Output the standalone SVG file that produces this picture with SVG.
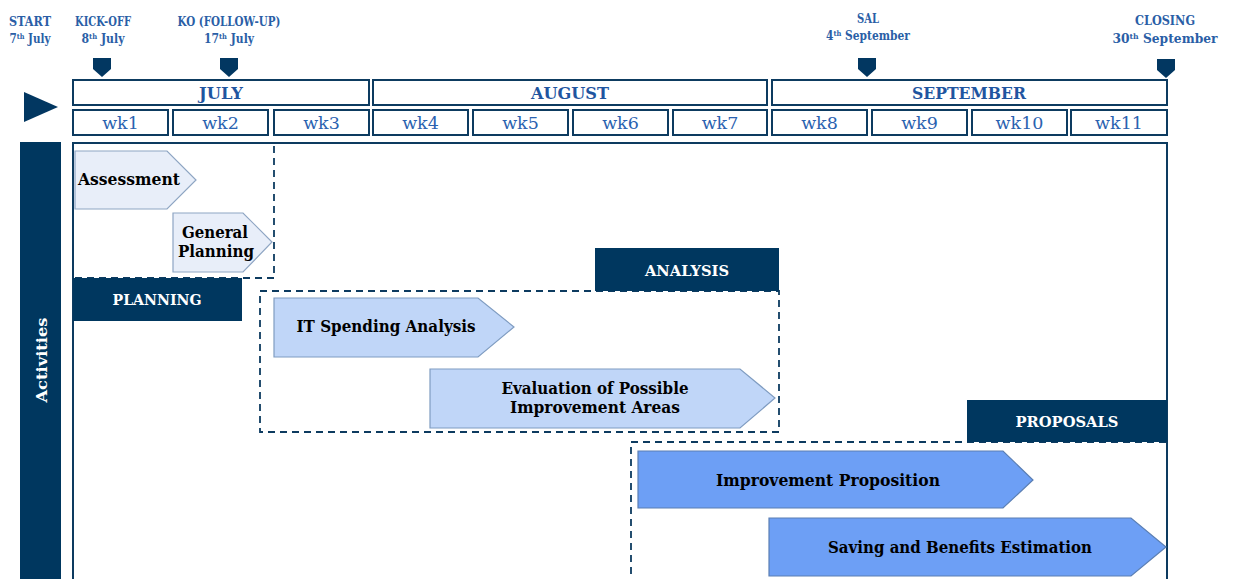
<svg xmlns="http://www.w3.org/2000/svg" width="1233" height="579" viewBox="0 0 1233 579">
  <style>
    .cell { fill: #ffffff; stroke: #0d3b60; stroke-width: 2; }
    .mark { fill: #023761; }
    .hdr { font-family: "DejaVu Serif", "Liberation Serif", serif; font-weight: bold; font-size: 12px; fill: #2a5ea6; text-anchor: middle; }
    .sup { font-size: 7.5px; }
    .month { font-family: "DejaVu Serif", "Liberation Serif", serif; font-weight: bold; font-size: 17px; fill: #1f55a0; text-anchor: middle; }
    .week { font-family: "DejaVu Serif", "Liberation Serif", serif; font-size: 17.5px; fill: #2a62b0; text-anchor: middle; }
    .banner { fill: #00375f; }
    .btxt { font-family: "DejaVu Serif", "Liberation Serif", serif; font-weight: bold; font-size: 15px; fill: #ffffff; text-anchor: middle; }
    .phase { fill: none; stroke: #0d3b60; stroke-width: 1.8; stroke-dasharray: 7 5; }
    .task { font-family: "DejaVu Serif", "Liberation Serif", serif; font-weight: bold; font-size: 16.5px; fill: #000000; text-anchor: middle; }
    .a1 { fill: #e8eef9; stroke: #8ea5c3; stroke-width: 1.2; }
    .a2 { fill: #c0d6f8; stroke: #7f9cc1; stroke-width: 1.2; }
    .a3 { fill: #6d9ff5; stroke: #5b7fb3; stroke-width: 1.2; }
  </style>

  <!-- timeline start arrow -->
  <polygon class="mark" points="24,92 24,122 58,107"/>

  <!-- milestone labels and markers -->
  <g id="milestones">
    <text class="hdr" x="30" y="26" textLength="42" lengthAdjust="spacingAndGlyphs">START</text>
    <text class="hdr" x="30" y="43" textLength="41" lengthAdjust="spacingAndGlyphs">7<tspan class="sup" dy="-4">th</tspan><tspan dy="4"> July</tspan></text>

    <text class="hdr" x="103" y="26" textLength="56" lengthAdjust="spacingAndGlyphs">KICK-OFF</text>
    <text class="hdr" x="103" y="43" textLength="43" lengthAdjust="spacingAndGlyphs">8<tspan class="sup" dy="-4">th</tspan><tspan dy="4"> July</tspan></text>
    <polygon class="mark" points="93,58 111,58 111,69 102,77 93,69"/>

    <text class="hdr" x="229" y="26" textLength="103" lengthAdjust="spacingAndGlyphs">KO (FOLLOW-UP)</text>
    <text class="hdr" x="229" y="43" textLength="50" lengthAdjust="spacingAndGlyphs">17<tspan class="sup" dy="-4">th</tspan><tspan dy="4"> July</tspan></text>
    <polygon class="mark" points="220,58 238,58 238,69 229,77 220,69"/>

    <text class="hdr" x="868" y="23" textLength="22" lengthAdjust="spacingAndGlyphs">SAL</text>
    <text class="hdr" x="868" y="40" textLength="84" lengthAdjust="spacingAndGlyphs">4<tspan class="sup" dy="-4">th</tspan><tspan dy="4"> September</tspan></text>
    <polygon class="mark" points="858,58 876,58 876,69 867,77 858,69"/>

    <text class="hdr" x="1165" y="25" font-size="12.5" textLength="60" lengthAdjust="spacingAndGlyphs">CLOSING</text>
    <text class="hdr" x="1165" y="43" font-size="12.5" textLength="105" lengthAdjust="spacingAndGlyphs">30<tspan class="sup" dy="-4">th</tspan><tspan dy="4"> September</tspan></text>
    <polygon class="mark" points="1157,59 1175,59 1175,70 1166,78 1157,70"/>
  </g>

  <!-- month row -->
  <g id="months">
    <rect class="cell" x="73" y="80" width="296" height="25"/>
    <text class="month" x="221" y="99" textLength="44" lengthAdjust="spacingAndGlyphs">JULY</text>
    <rect class="cell" x="373" y="80" width="394" height="25"/>
    <text class="month" x="570" y="99" textLength="78" lengthAdjust="spacingAndGlyphs">AUGUST</text>
    <rect class="cell" x="772" y="80" width="395" height="25"/>
    <text class="month" x="969" y="99" textLength="114" lengthAdjust="spacingAndGlyphs">SEPTEMBER</text>
  </g>

  <!-- week row -->
  <g id="weeks">
    <rect class="cell" x="73" y="110" width="95" height="25"/><text class="week" x="120.5" y="129">wk1</text>
    <rect class="cell" x="173" y="110" width="95" height="25"/><text class="week" x="220.5" y="129">wk2</text>
    <rect class="cell" x="274" y="110" width="95" height="25"/><text class="week" x="321.5" y="129">wk3</text>
    <rect class="cell" x="373" y="110" width="95" height="25"/><text class="week" x="420.5" y="129">wk4</text>
    <rect class="cell" x="473" y="110" width="95" height="25"/><text class="week" x="520.5" y="129">wk5</text>
    <rect class="cell" x="573" y="110" width="95" height="25"/><text class="week" x="620.5" y="129">wk6</text>
    <rect class="cell" x="673" y="110" width="94" height="25"/><text class="week" x="720" y="129">wk7</text>
    <rect class="cell" x="772" y="110" width="95" height="25"/><text class="week" x="819.5" y="129">wk8</text>
    <rect class="cell" x="872" y="110" width="95" height="25"/><text class="week" x="919.5" y="129">wk9</text>
    <rect class="cell" x="972" y="110" width="95" height="25"/><text class="week" x="1019.5" y="129">wk10</text>
    <rect class="cell" x="1071" y="110" width="96" height="25"/><text class="week" x="1119" y="129">wk11</text>
  </g>

  <!-- activities side bar and main frame -->
  <g id="activities">
    <rect class="banner" x="20" y="142" width="41" height="440"/>
    <text class="btxt" font-size="18" font-weight="normal" transform="translate(47,360) rotate(-90)" textLength="85" lengthAdjust="spacingAndGlyphs">Activities</text>
    <rect class="cell" x="73" y="143" width="1094" height="460"/>
  </g>

  <!-- planning phase -->
  <g id="planning">
    <rect class="phase" x="73" y="143" width="201" height="135"/>
    <rect class="banner" x="73" y="278" width="169" height="43"/>
    <text class="btxt" x="157" y="305" textLength="89" lengthAdjust="spacingAndGlyphs">PLANNING</text>
  </g>
  <g id="assessment">
    <polygon class="a1" points="75,151 167,151 196,180 167,209 75,209"/>
    <text class="task" x="129" y="185" textLength="102" lengthAdjust="spacingAndGlyphs">Assessment</text>
  </g>
  <g id="general-planning">
    <polygon class="a1" points="173,213 243,213 272,242 243,272 173,272"/>
    <text class="task" x="215" y="238" textLength="66" lengthAdjust="spacingAndGlyphs">General</text>
    <text class="task" x="216" y="257" textLength="76" lengthAdjust="spacingAndGlyphs">Planning</text>
  </g>

  <!-- analysis phase -->
  <g id="analysis">
    <rect class="phase" x="260" y="291" width="519" height="141"/>
    <rect class="banner" x="595" y="248" width="184" height="43"/>
    <text class="btxt" x="687" y="276" textLength="84" lengthAdjust="spacingAndGlyphs">ANALYSIS</text>
  </g>
  <g id="it-spending">
    <polygon class="a2" points="274,298 478,298 514,327 478,357 274,357"/>
    <text class="task" x="386" y="332" textLength="179" lengthAdjust="spacingAndGlyphs">IT Spending Analysis</text>
  </g>
  <g id="evaluation">
    <polygon class="a2" points="430,369 740,369 775,398 740,428 430,428"/>
    <text class="task" x="595" y="394" textLength="187" lengthAdjust="spacingAndGlyphs">Evaluation of Possible</text>
    <text class="task" x="595" y="413" textLength="170" lengthAdjust="spacingAndGlyphs">Improvement Areas</text>
  </g>

  <!-- proposals phase -->
  <g id="proposals">
    <rect class="phase" x="631" y="442" width="536" height="160"/>
    <rect class="banner" x="967" y="400" width="200" height="42"/>
    <text class="btxt" x="1067" y="427" textLength="103" lengthAdjust="spacingAndGlyphs">PROPOSALS</text>
  </g>
  <g id="improvement">
    <polygon class="a3" points="638,451 1003,451 1033,480 1003,508 638,508"/>
    <text class="task" x="828" y="486" textLength="224" lengthAdjust="spacingAndGlyphs">Improvement Proposition</text>
  </g>
  <g id="saving">
    <polygon class="a3" points="769,518 1131,518 1166,547 1131,576 769,576"/>
    <text class="task" x="960" y="553" textLength="264" lengthAdjust="spacingAndGlyphs">Saving and Benefits Estimation</text>
  </g>
</svg>
